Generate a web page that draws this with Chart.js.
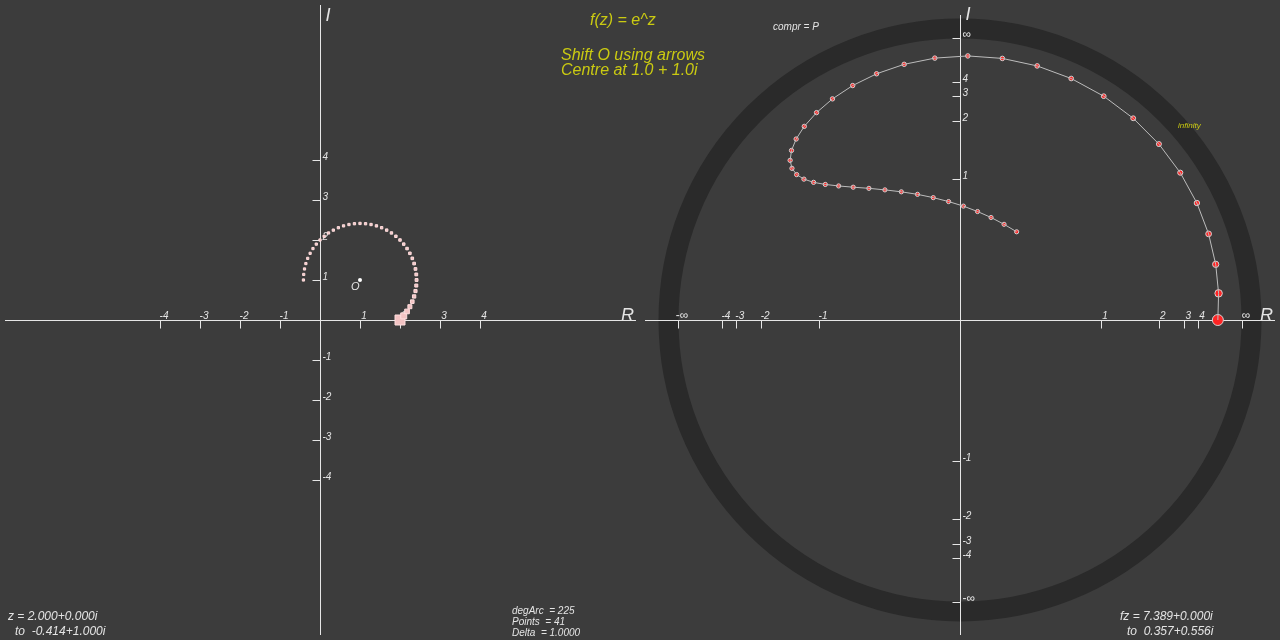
<!DOCTYPE html>
<html>
<head>
<meta charset="utf-8">
<title>f(z) = e^z</title>
<script src="https://cdn.jsdelivr.net/npm/chart.js@4.4.0/dist/chart.umd.min.js"></script>
<style>
html, body { margin: 0; padding: 0; background: #3c3c3c; overflow: hidden; }
#wrap { position: relative; width: 1280px; height: 640px; }
canvas { position: absolute; left: 0; top: 0; }
</style>
</head>
<body>
<div id="wrap">
    <canvas id="zChart" width="640" height="640"></canvas>
    <canvas id="fzChart" width="1280" height="640"></canvas>
</div>
<script>
// z points on the arc round O (225 deg, 41 points)
const zRe = [2.000, 2.093, 2.176, 2.247, 2.307, 2.353, 2.387, 2.407, 2.414, 2.407, 2.387, 2.353, 2.307, 2.247,
    2.176, 2.093, 2.000, 1.897, 1.786, 1.667, 1.541, 1.411, 1.276, 1.139, 1.000, 0.861, 0.724, 0.589,
    0.459, 0.333, 0.214, 0.103, 0.000, -0.093, -0.176, -0.247, -0.307, -0.353, -0.387, -0.407, -0.414];
const zIm = [0.000, 0.103, 0.214, 0.333, 0.459, 0.589, 0.724, 0.861, 1.000, 1.139, 1.276, 1.411, 1.541, 1.667,
    1.786, 1.897, 2.000, 2.093, 2.176, 2.247, 2.307, 2.353, 2.387, 2.407, 2.414, 2.407, 2.387, 2.353,
    2.307, 2.247, 2.176, 2.093, 2.000, 1.897, 1.786, 1.667, 1.541, 1.411, 1.276, 1.139, 1.000];

// f(z) values
const fzRe = [7.389, 8.068, 8.608, 8.940, 9.002, 8.745, 8.151, 7.234, 6.041, 4.644, 3.162, 1.681, 0.297, -0.906,
    -1.879, -2.603, -3.075, -3.331, -3.393, -3.318, -3.135, -2.889, -2.610, -2.318, -2.030, -1.757, -1.503, -1.271,
    -1.062, -0.875, -0.705, -0.554, -0.416, -0.292, -0.179, -0.075, 0.022, 0.112, 0.197, 0.278, 0.357];
const fzIm = [0.000, 0.832, 1.874, 3.096, 4.446, 5.849, 7.209, 8.426, 9.408, 10.087, 10.411, 10.385, 10.036, 9.418,
    8.607, 7.682, 6.719, 5.775, 4.905, 4.126, 3.462, 2.907, 2.453, 2.092, 1.807, 1.586, 1.413, 1.279,
    1.173, 1.088, 1.019, 0.960, 0.909, 0.863, 0.819, 0.777, 0.736, 0.693, 0.650, 0.604, 0.556];

const centreRe = [1.0];
const centreIm = [1.0];

const zTicks = [-4, -3, -2, -1, 1, 2, 3, 4];
const fzTicks = [1, 2, 3, 4];
const degArc = 225;
const delta = 1.0;

const axisColor = '#e6e6e6';
const textColor = '#e4e4e4';
const yellow = '#caca12';
const fontName = '"Liberation Sans", Arial, sans-serif';

// compr = P : polar, modulus squeezed by atan so infinity sits on the unit circle
function compress(re, im) {
    let rho = 2 / Math.PI * Math.atan(Math.hypot(re, im));
    let a = Math.atan2(im, re);
    return {x: rho * Math.cos(a), y: rho * Math.sin(a)};
}

function fmt(re, im) {
    return re.toFixed(3) + (im < 0 ? '' : '+') + im.toFixed(3) + 'i';
}

function drawPlane(chart, p) {
    const ctx = chart.ctx;
    const xs = chart.scales.x, ys = chart.scales.y;
    const ox = Math.round(xs.getPixelForValue(0)) + 0.5;
    const oy = Math.round(ys.getPixelForValue(0)) + 0.5;
    ctx.save();
    ctx.strokeStyle = axisColor;
    ctx.lineWidth = 1;
    ctx.beginPath();
    ctx.moveTo(p.xFrom, oy);
    ctx.lineTo(p.xTo, oy);
    ctx.moveTo(ox, p.yFrom);
    ctx.lineTo(ox, p.yTo);
    p.ticks.forEach(t => {
        let px = Math.round(xs.getPixelForValue(t.v)) + 0.5;
        ctx.moveTo(px, oy);
        ctx.lineTo(px, oy + 8);
        let py = Math.round(ys.getPixelForValue(t.v)) + 0.5;
        ctx.moveTo(ox - 8, py);
        ctx.lineTo(ox, py);
    });
    ctx.stroke();

    ctx.fillStyle = textColor;
    p.ticks.forEach(t => {
        // the infinity sign is drawn a little larger
        ctx.font = (t.label.indexOf('∞') >= 0 ? '12px ' : 'italic 10px ') + fontName;
        ctx.textAlign = 'center';
        ctx.textBaseline = 'alphabetic';
        ctx.fillText(t.label, xs.getPixelForValue(t.v) + 4, oy - 2);
        ctx.textAlign = 'left';
        ctx.textBaseline = 'middle';
        ctx.fillText(t.label, ox + 2, ys.getPixelForValue(t.v) - 3);
    });

    ctx.font = 'italic 18px ' + fontName;
    ctx.textAlign = 'left';
    ctx.textBaseline = 'alphabetic';
    ctx.fillText('R', p.rX, oy);
    ctx.fillText('I', ox + 5, p.iY);
    ctx.restore();
}

function text(ctx, str, x, y, size, color) {
    ctx.font = 'italic ' + size + 'px ' + fontName;
    ctx.fillStyle = color;
    ctx.textAlign = 'left';
    ctx.textBaseline = 'alphabetic';
    ctx.fillText(str, x, y);
}

// left plane: z
const zPlugin = {
    id: 'zPlane',
    beforeDatasetsDraw(chart) {
        drawPlane(chart, {
            xFrom: 5, xTo: 636, yFrom: 5, yTo: 635, rX: 621, iY: 21,
            ticks: zTicks.map(v => ({v: v, label: String(v)}))
        });
    },
    afterDraw(chart) {
        const ctx = chart.ctx;
        const xs = chart.scales.x, ys = chart.scales.y;
        ctx.save();
        text(ctx, 'O', xs.getPixelForValue(centreRe[0]) - 9, ys.getPixelForValue(centreIm[0]) + 10, 11, textColor);
        let n = zRe.length - 1;
        text(ctx, 'z = ' + fmt(zRe[0], zIm[0]), 8, 620, 12, textColor);
        text(ctx, 'to  ' + fmt(zRe[n], zIm[n]), 15, 635, 12, textColor);
        text(ctx, 'degArc  = ' + degArc, 512, 614, 10, textColor);
        text(ctx, 'Points  = ' + zRe.length, 512, 625, 10, textColor);
        text(ctx, 'Delta  = ' + delta.toFixed(4), 512, 636, 10, textColor);
        ctx.restore();
    }
};

const zPoints = zRe.map((re, i) => ({x: re, y: zIm[i]}));
const oPoint = centreRe.map((re, i) => ({x: re, y: centreIm[i]}));

new Chart(document.getElementById('zChart').getContext('2d'), {
    type: 'scatter',
    data: {
        datasets: [
            {
                label: 'O',
                data: oPoint,
                pointStyle: 'circle',
                pointRadius: 2,
                backgroundColor: '#ffffff',
                borderColor: '#ffffff',
                borderWidth: 0
            },
            {
                label: 'z',
                data: zPoints,
                pointStyle: 'rect',
                pointRadius: c => (2 + 8 / (c.dataIndex + 1)) / Math.SQRT2,
                backgroundColor: '#f3c3c3',
                borderColor: '#ffdede',
                borderWidth: 1
            }
        ]
    },
    options: {
        responsive: false,
        animation: false,
        layout: {padding: 0, autoPadding: false},
        plugins: {legend: {display: false}, tooltip: {enabled: false}},
        scales: {
            x: {type: 'linear', min: -8, max: 8, display: false},
            y: {type: 'linear', min: -8, max: 8, display: false}
        }
    },
    plugins: [zPlugin]
});

// right plane: f(z), compressed
const fzPoints = fzRe.map((re, i) => compress(re, fzIm[i]));
const fzTickList = [];
fzTicks.forEach(n => {
    let c = compress(n, 0).x;
    fzTickList.push({v: c, label: String(n)});
    fzTickList.push({v: -c, label: String(-n)});
});
fzTickList.push({v: 1, label: '∞'});
fzTickList.push({v: -1, label: '-∞'});

const fzPlugin = {
    id: 'fzPlane',
    beforeDatasetsDraw(chart) {
        const ctx = chart.ctx;
        const xs = chart.scales.x, ys = chart.scales.y;
        const cx = xs.getPixelForValue(0), cy = ys.getPixelForValue(0);
        const rInf = xs.getPixelForValue(1) - cx;
        ctx.save();
        ctx.strokeStyle = '#2a2a2a';
        ctx.lineWidth = 20;
        ctx.beginPath();
        ctx.arc(cx, cy, rInf + 9.5, 0, Math.PI * 2);
        ctx.stroke();
        ctx.restore();
        drawPlane(chart, {
            xFrom: 645, xTo: 1275, yFrom: 15, yTo: 635, rX: 1260, iY: 20,
            ticks: fzTickList
        });
    },
    afterDraw(chart) {
        const ctx = chart.ctx;
        let n = fzRe.length - 1;
        ctx.save();
        text(ctx, 'f(z) = e^z', 590, 25, 16, yellow);
        text(ctx, 'Shift O using arrows', 561, 60, 16, yellow);
        text(ctx, 'Centre at ' + centreRe[0].toFixed(1) + ' + ' + centreIm[0].toFixed(1) + 'i', 561, 75, 16, yellow);
        text(ctx, 'compr = P', 773, 30, 10, textColor);
        text(ctx, 'infinity', 1178, 128, 8, yellow);
        text(ctx, 'fz = ' + fmt(fzRe[0], fzIm[0]), 1120, 620, 12, textColor);
        text(ctx, 'to  ' + fmt(fzRe[n], fzIm[n]), 1127, 635, 12, textColor);
        ctx.restore();
    }
};

const fzRange = 320 / 282;

new Chart(document.getElementById('fzChart').getContext('2d'), {
    type: 'scatter',
    data: {
        datasets: [
            {
                label: 'path',
                data: fzPoints,
                showLine: true,
                borderColor: '#bdbdbd',
                borderWidth: 1,
                pointRadius: 0,
                fill: false
            },
            {
                label: 'fz',
                data: fzPoints,
                pointStyle: 'circle',
                pointRadius: c => 2 + 3.5 / (c.dataIndex + 1),
                backgroundColor: '#ff2424',
                borderColor: '#d2d2d2',
                borderWidth: 1
            }
        ]
    },
    options: {
        responsive: false,
        animation: false,
        layout: {padding: {left: 640, right: 0, top: 0, bottom: 0}, autoPadding: false},
        plugins: {legend: {display: false}, tooltip: {enabled: false}},
        scales: {
            x: {type: 'linear', min: -fzRange, max: fzRange, display: false},
            y: {type: 'linear', min: -fzRange, max: fzRange, display: false}
        }
    },
    plugins: [fzPlugin]
});
</script>
</body>
</html>
